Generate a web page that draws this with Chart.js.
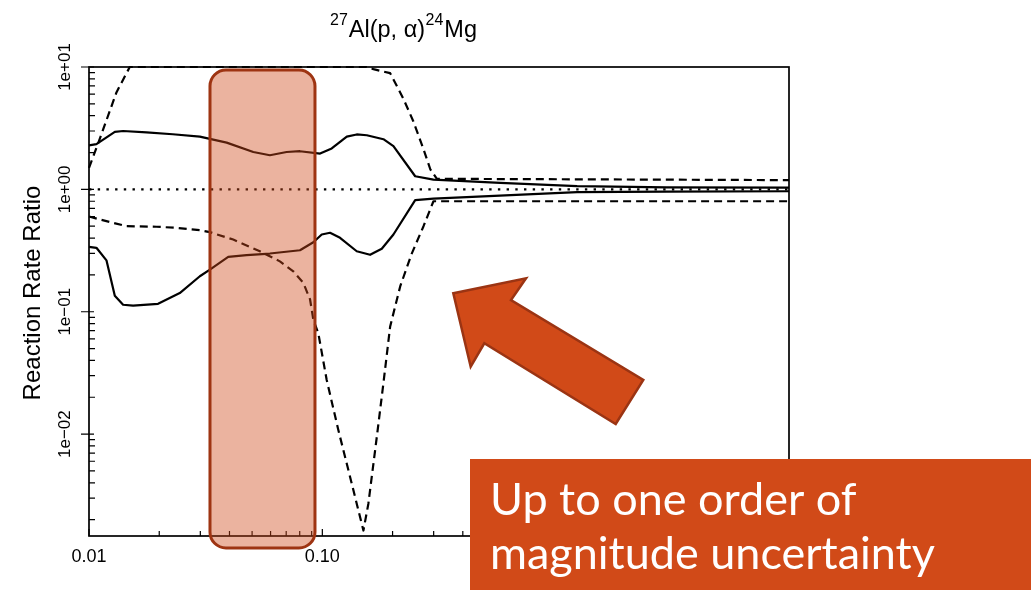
<!DOCTYPE html>
<html>
<head>
<meta charset="utf-8">
<script src="https://cdn.jsdelivr.net/npm/chart.js@4"></script>
<style>
  html, body { margin: 0; padding: 0; background: #fff; }
  #wrap { width: 1031px; height: 590px; position: relative; }
</style>
</head>
<body>
<div id="wrap"><canvas id="c"></canvas></div>
<script>
// Temperature (GK) and reaction rate ratio for each band of 27Al(p,a)24Mg
const hiSolidT = [0.01, 0.01076, 0.0129, 0.0140, 0.01764, 0.02286, 0.02986, 0.0389, 0.0506, 0.0596, 0.0703, 0.0802, 0.0978, 0.1097, 0.1273, 0.1404, 0.1551, 0.1827, 0.2017, 0.25, 0.2994, 0.579, 1.236, 3.0, 10];
const hiSolidR = [2.29, 2.34, 2.95, 3.0, 2.92, 2.82, 2.70, 2.41, 2.02, 1.90, 2.02, 2.05, 1.96, 2.16, 2.70, 2.81, 2.77, 2.57, 2.26, 1.28, 1.20, 1.13, 1.064, 1.04, 1.035];

const loSolidT = [0.01, 0.01076, 0.01188, 0.0129, 0.0140, 0.01545, 0.01977, 0.02449, 0.02986, 0.03297, 0.03951, 0.04737, 0.0596, 0.0802, 0.0915, 0.0994, 0.1079, 0.1191, 0.1404, 0.1602, 0.1798, 0.2017, 0.25, 0.2994, 1.236, 3.0, 10];
const loSolidR = [0.339, 0.333, 0.263, 0.135, 0.114, 0.112, 0.116, 0.142, 0.195, 0.221, 0.281, 0.290, 0.299, 0.318, 0.370, 0.428, 0.442, 0.402, 0.312, 0.292, 0.327, 0.428, 0.817, 0.839, 0.95, 0.96, 0.965];

const hiDashT = [0.01, 0.01111, 0.01311, 0.01495, 0.155, 0.1655, 0.1953, 0.2226, 0.2454, 0.2714, 0.2902, 0.3097, 10];
const hiDashR = [1.5, 2.57, 6.2, 10, 10, 9.6, 8.9, 5.5, 3.6, 2.13, 1.46, 1.22, 1.19];

const loDashT = [0.01, 0.01111, 0.01447, 0.01946, 0.02372, 0.02986, 0.03297, 0.0415, 0.054, 0.0658, 0.0751, 0.0829, 0.0886, 0.0915, 0.0961, 0.1044, 0.1171, 0.1315, 0.150, 0.1575, 0.1712, 0.1827, 0.1953, 0.2156, 0.2419, 0.2714, 0.2994, 10];
const loDashR = [0.60, 0.568, 0.50, 0.495, 0.485, 0.464, 0.447, 0.389, 0.312, 0.258, 0.214, 0.172, 0.126, 0.086, 0.0668, 0.0277, 0.0108, 0.00447, 0.00163, 0.0027, 0.0095, 0.026, 0.0758, 0.161, 0.30, 0.50, 0.80, 0.80];

const unityT = [0.01, 10];
const unityR = [1, 1];

// Axis ticks
const xMajorTicks = [0.01, 0.1, 1, 10];
const xTickLabels = ['0.01', '0.10', '1.00', '10.00'];
const yMajorTicks = [0.01, 0.1, 1, 10];
const yTickLabels = ['1e\u221202', '1e\u221201', '1e+00', '1e+01'];
const yAxisTitle = 'Reaction Rate Ratio';

// Highlighted temperature window (GK)
const bandT = [0.033, 0.093];

const calloutLines = ['Up to one order of', 'magnitude uncertainty'];

function pts(T, R) { return T.map((t, i) => ({ x: t, y: R[i] })); }

const AXIS_FONT = 'Liberation Sans, Arial, Helvetica, sans-serif';

// Frame box, inward minor ticks, major ticks and the vertical axis title
const axisDecor = {
  id: 'axisDecor',
  afterDatasetsDraw(chart) {
    const { ctx, chartArea: a, scales: { x, y } } = chart;
    ctx.save();
    ctx.strokeStyle = '#000';
    ctx.lineWidth = 1.2;
    ctx.beginPath();
    for (let d = -3; d <= 1; d++) {
      for (let m = 1; m <= 9; m++) {
        const v = m * Math.pow(10, d);
        if (v >= x.min * 0.999 && v <= x.max * 1.001) {
          const px = x.getPixelForValue(v);
          const len = m === 1 ? 7 : 5;
          ctx.moveTo(px, a.bottom);
          ctx.lineTo(px, a.bottom - len);
        }
        if (v >= y.min && v <= y.max * 1.001) {
          const py = y.getPixelForValue(v);
          if (m === 1) { ctx.moveTo(a.left - 8, py); ctx.lineTo(a.left + 5, py); }
          else { ctx.moveTo(a.left, py); ctx.lineTo(a.left + 6, py); }
        }
      }
    }
    ctx.stroke();
    ctx.lineWidth = 1.7;
    ctx.strokeRect(a.left, a.top, a.right - a.left, a.bottom - a.top);

    // vertical axis title
    ctx.translate(33, 293);
    ctx.rotate(-Math.PI / 2);
    ctx.fillStyle = '#000';
    ctx.font = '24px ' + AXIS_FONT;
    ctx.textAlign = 'center';
    ctx.textBaseline = 'middle';
    ctx.fillText(yAxisTitle, 0, 0);
    ctx.restore();
  }
};

function roundRectPath(ctx, x, y, w, h, r) {
  ctx.beginPath();
  ctx.moveTo(x + r, y);
  ctx.lineTo(x + w - r, y);
  ctx.arcTo(x + w, y, x + w, y + r, r);
  ctx.lineTo(x + w, y + h - r);
  ctx.arcTo(x + w, y + h, x + w - r, y + h, r);
  ctx.lineTo(x + r, y + h);
  ctx.arcTo(x, y + h, x, y + h - r, r);
  ctx.lineTo(x, y + r);
  ctx.arcTo(x, y, x + r, y, r);
  ctx.closePath();
}

// Title with superscript mass numbers, highlight window, arrow and callout
const overlay = {
  id: 'overlay',
  afterDraw(chart) {
    const { ctx, chartArea: a, scales: { x } } = chart;
    ctx.save();

    // title
    const parts = [
      { t: '27', sup: true }, { t: 'Al(p, \u03b1)', sup: false },
      { t: '24', sup: true }, { t: 'Mg', sup: false }
    ];
    let tx = 330;
    ctx.fillStyle = '#000';
    ctx.textBaseline = 'alphabetic';
    ctx.textAlign = 'left';
    parts.forEach(p => {
      ctx.font = (p.sup ? '16px ' : '23.5px ') + AXIS_FONT;
      ctx.fillText(p.t, tx, p.sup ? 25 : 37);
      tx += ctx.measureText(p.t).width + (p.sup ? 1 : 0.5);
    });

    // highlighted window
    const x0 = x.getPixelForValue(bandT[0]);
    const x1 = x.getPixelForValue(bandT[1]);
    const top = a.top + 3, bottom = a.bottom + 12;
    roundRectPath(ctx, x0, top, x1 - x0, bottom - top, 16);
    ctx.fillStyle = 'rgba(208,74,26,0.42)';
    ctx.fill();
    ctx.lineWidth = 3;
    ctx.strokeStyle = '#9E3412';
    ctx.stroke();

    // arrow
    const arrow = [[453.3, 293.3], [526, 278.3], [511, 300], [643.3, 380], [615.7, 424], [484.3, 343.3], [470.7, 366.7]];
    ctx.beginPath();
    arrow.forEach((p, i) => i ? ctx.lineTo(p[0], p[1]) : ctx.moveTo(p[0], p[1]));
    ctx.closePath();
    ctx.fillStyle = '#D14A18';
    ctx.fill();
    ctx.lineJoin = 'miter';
    ctx.lineWidth = 2.5;
    ctx.strokeStyle = '#9B3413';
    ctx.stroke();

    // callout box
    ctx.fillStyle = '#D14A18';
    ctx.fillRect(470, 459, 561, 131);
    ctx.fillStyle = '#fff';
    ctx.font = '40px Lato, "Open Sans", sans-serif';
    const w = ctx.measureText(calloutLines[1]).width;
    const fs = 40 * 445 / w;
    ctx.font = fs.toFixed(2) + 'px Lato, "Open Sans", sans-serif';
    ctx.fillText(calloutLines[0], 490, 515);
    ctx.fillText(calloutLines[1], 490, 569);

    ctx.restore();
  }
};

const lineBase = { borderColor: '#000', borderWidth: 2.2, pointRadius: 0, tension: 0, fill: false, borderCapStyle: 'butt', borderJoinStyle: 'round', clip: 4 };

new Chart(document.getElementById('c'), {
  type: 'line',
  data: {
    datasets: [
      Object.assign({ label: 'recommended', data: pts(unityT, unityR) }, lineBase, { borderDash: [2.4, 6.3], borderWidth: 2.4 }),
      Object.assign({ label: 'high', data: pts(hiSolidT, hiSolidR) }, lineBase),
      Object.assign({ label: 'low', data: pts(loSolidT, loSolidR) }, lineBase),
      Object.assign({ label: 'high (limit)', data: pts(hiDashT, hiDashR) }, lineBase, { borderDash: [8, 5] }),
      Object.assign({ label: 'low (limit)', data: pts(loDashT, loDashR) }, lineBase, { borderDash: [8, 5] })
    ]
  },
  options: {
    responsive: true,
    maintainAspectRatio: false,
    animation: false,
    layout: { padding: { left: 0, top: 67, right: 242, bottom: 0 } },
    plugins: { legend: { display: false }, tooltip: { enabled: false }, title: { display: false } },
    scales: {
      x: {
        type: 'logarithmic', min: 0.01, max: 10, position: 'bottom',
        afterBuildTicks: s => { s.ticks = xMajorTicks.map(v => ({ value: v })); },
        afterFit: s => { s.height = 54; },
        grid: { display: false, drawTicks: false },
        border: { display: false },
        ticks: {
          autoSkip: false, minRotation: 0, maxRotation: 0, padding: 10, color: '#000',
          font: { family: AXIS_FONT, size: 18 },
          callback: v => { const i = xMajorTicks.indexOf(v); return i < 0 ? '' : xTickLabels[i]; }
        }
      },
      y: {
        type: 'logarithmic', min: 0.00147, max: 10, position: 'left',
        afterBuildTicks: s => { s.ticks = yMajorTicks.map(v => ({ value: v })); },
        afterFit: s => { s.width = 89; },
        grid: { display: false, drawTicks: false },
        border: { display: false },
        ticks: {
          autoSkip: false, minRotation: 90, maxRotation: 90, crossAlign: 'center', padding: 0, color: '#000',
          font: { family: AXIS_FONT, size: 17 },
          callback: v => { const i = yMajorTicks.indexOf(v); return i < 0 ? '' : yTickLabels[i]; }
        }
      }
    }
  },
  plugins: [axisDecor, overlay]
});
</script>
</body>
</html>
